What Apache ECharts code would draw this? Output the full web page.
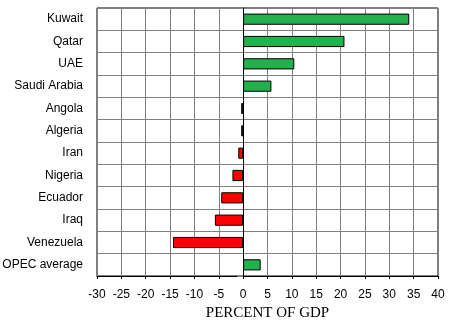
<!DOCTYPE html>
<html>
<head>
<meta charset="utf-8">
<script src="https://cdn.jsdelivr.net/npm/echarts@6/dist/echarts.min.js"></script>
<style>html,body{margin:0;padding:0;background:#fff;}#c{width:456px;height:324px;}</style>
</head>
<body>
<div id="c"></div>
<script>
const categories = ['Kuwait','Qatar','UAE','Saudi Arabia','Angola','Algeria','Iran','Nigeria','Ecuador','Iraq','Venezuela','OPEC average'];
const values = [34.1, 20.8, 10.5, 5.8, -0.4, -0.4, -1.0, -2.2, -4.5, -5.8, -14.4, 3.6];
const xTicks = {min: -30, max: 40, interval: 5};
const axisName = 'PERCENT OF GDP';

const chart = echarts.init(document.getElementById('c'), null, {renderer: 'canvas'});
chart.setOption({
  animation: false,
  backgroundColor: '#ffffff',
  grid: {left: 97, right: 18, top: 8, bottom: 48, show: true, borderColor: '#000', borderWidth: 1, backgroundColor: 'transparent', containLabel: false, outerBoundsMode: 'none'},
  xAxis: {
    type: 'value', min: xTicks.min, max: xTicks.max, interval: xTicks.interval,
    axisLine: {show: true, onZero: false, lineStyle: {color: '#000', width: 1}},
    axisTick: {show: true, length: 3, lineStyle: {color: '#000'}},
    splitLine: {show: true, lineStyle: {color: '#808080', width: 1}},
    axisLabel: {color: '#000', fontFamily: 'Liberation Sans, Arial, sans-serif', fontSize: 12, margin: 13},
    name: axisName, nameLocation: 'middle', nameGap: 28,
    nameTextStyle: {color: '#000', fontFamily: 'Liberation Serif, Times New Roman, serif', fontSize: 15}
  },
  yAxis: {
    type: 'category', data: categories, inverse: true,
    axisLine: {show: true, lineStyle: {color: '#000', width: 1}},
    axisTick: {show: true, length: 6, lineStyle: {color: '#808080'}},
    splitLine: {show: true, lineStyle: {color: '#808080', width: 1}},
    axisLabel: {color: '#000', fontFamily: 'Liberation Sans, Arial, sans-serif', fontSize: 12, margin: 14}
  },
  series: [{
    type: 'bar', data: values, barWidth: '50%',
    itemStyle: {
      borderColor: '#000', borderWidth: 1,
      color: p => p.value >= 0 ? '#22b14c' : '#ff0000'
    }
  }]
});
</script>
</body>
</html>
